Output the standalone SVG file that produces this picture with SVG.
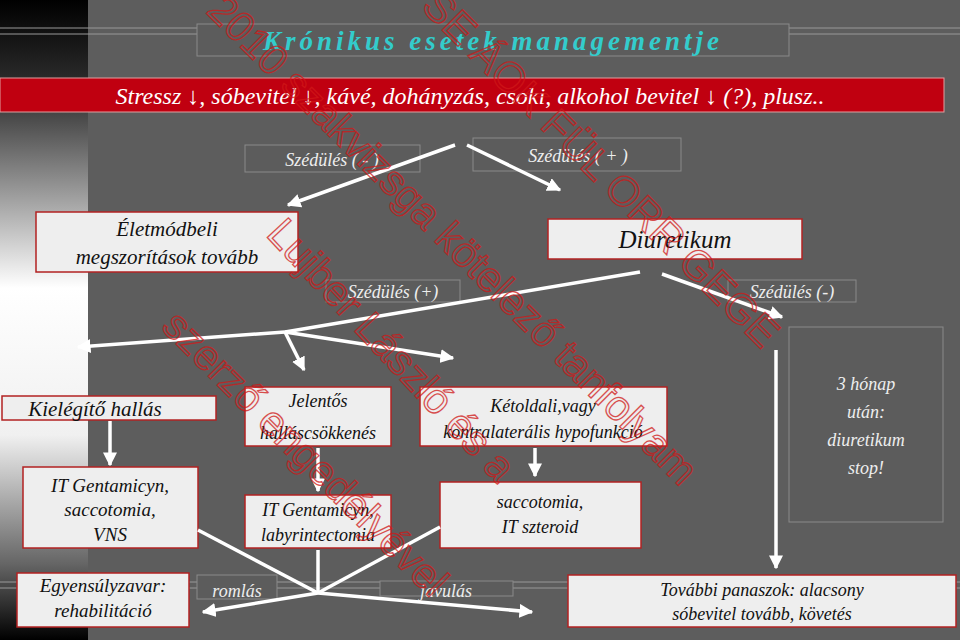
<svg xmlns="http://www.w3.org/2000/svg" width="960" height="640" viewBox="0 0 960 640">
<defs>
<linearGradient id="strip" x1="0" y1="0" x2="0" y2="1">
<stop offset="0" stop-color="#000"/><stop offset="0.15" stop-color="#333"/><stop offset="0.45" stop-color="#fff"/><stop offset="0.68" stop-color="#f0f0f0"/><stop offset="0.88" stop-color="#666"/><stop offset="1" stop-color="#000"/>
</linearGradient>
<marker id="ah" viewBox="0 0 10 10" refX="9" refY="5" markerWidth="4" markerHeight="4" orient="auto"><path d="M0,0 L10,5 L0,10 z" fill="#fff"/></marker>
<style>
.box{fill:#eeeeee;stroke:#b22222;stroke-width:1.5}
.lbl{fill:#5c5c5c;stroke:#8a8a8a;stroke-width:1}
.t{font-family:"Liberation Serif","DejaVu Serif",serif;font-style:italic;fill:#111;text-anchor:middle}
.tl{font-family:"Liberation Serif","DejaVu Serif",serif;font-style:italic;fill:#eee;text-anchor:middle;font-size:18px}
.c{stroke:#fff;stroke-width:3.5;fill:none}
.ca{stroke:#fff;stroke-width:3.5;fill:none;marker-end:url(#ah)}
.wm{font-family:"Liberation Sans",sans-serif;font-size:42px;fill:none;stroke:#d01818;stroke-width:1.3;opacity:0.75}
.hl{stroke:#999;stroke-width:1}
</style>
</defs>
<rect width="960" height="640" fill="#5d5d5d"/>
<rect width="88" height="640" fill="url(#strip)"/>
<g id="decor">
<line class="hl" x1="0" y1="28" x2="960" y2="28"/><line class="hl" x1="0" y1="34" x2="960" y2="34"/>
<line class="hl" x1="0" y1="582" x2="960" y2="582"/><line class="hl" x1="0" y1="588" x2="960" y2="588"/>
</g>
<g id="title"><rect x="197" y="24" width="592" height="32" class="lbl"/>
<text x="493" y="50" font-family="Liberation Serif,serif" font-style="italic" font-weight="bold" font-size="27" fill="#33cccc" text-anchor="middle" letter-spacing="4">Krónikus esetek managementje</text></g>
<g id="banner"><rect x="0" y="78" width="944" height="34" fill="#c00010" stroke="#e0a0a0"/>
<text x="470" y="104" class="t" font-size="24" style="fill:#fff">Stressz ↓,  sóbevitel ↓, kávé, dohányzás, csoki, alkohol bevitel ↓ (?), plusz..</text></g>
<g id="l1"><rect x="245" y="145" width="175" height="27" class="lbl"/><text class="tl" x="332" y="166">Szédülés  ( - )</text></g>
<g id="l2"><rect x="473" y="138" width="208" height="33" class="lbl"/><text class="tl" x="578" y="162">Szédülés ( + )</text></g>
<g id="n_elet"><rect x="36" y="212" width="262" height="60" class="box"/><text class="t" font-size="21" x="167" y="236">Életmódbeli</text><text class="t" font-size="21" x="167" y="264">megszorítások tovább</text></g>
<g id="n_diur"><rect x="548" y="219" width="254" height="40" class="box"/><text class="t" font-size="25" x="675" y="248">Diuretikum</text></g>
<g id="l3"><rect x="326" y="280" width="134" height="22" class="lbl"/><text class="tl" x="393" y="298">Szédülés (+)</text></g>
<g id="l4"><rect x="728" y="280" width="128" height="22" class="lbl"/><text class="tl" x="792" y="298">Szédülés (-)</text></g>
<g id="n_kiel"><rect x="2" y="396" width="214" height="24" class="box"/><text class="t" font-size="21" x="95" y="416">Kielégítő hallás</text></g>
<g id="n_jel"><rect x="245" y="387" width="146" height="59" class="box"/><text class="t" font-size="18" x="318" y="407">Jelentős</text><text class="t" font-size="18" x="318" y="439">halláscsökkenés</text></g>
<g id="n_ket"><rect x="420" y="387" width="247" height="59" class="box"/><text class="t" font-size="18" x="543" y="412">Kétoldali,vagy</text><text class="t" font-size="18" x="543" y="438">kontralaterális hypofunkció</text></g>
<g id="n_3h"><rect x="789" y="327" width="154" height="195" class="lbl"/><text class="tl" font-size="20" x="866" y="390">3 hónap</text><text class="tl" font-size="20" x="866" y="418">után:</text><text class="tl" font-size="20" x="866" y="446">diuretikum</text><text class="tl" font-size="20" x="866" y="474">stop!</text></g>
<g id="n_it1"><rect x="23" y="467" width="175" height="81" class="box"/><text class="t" font-size="19" x="110" y="492">IT Gentamicyn,</text><text class="t" font-size="19" x="110" y="516">saccotomia,</text><text class="t" font-size="19" x="110" y="541">VNS</text></g>
<g id="n_it2"><rect x="245" y="495" width="146" height="53" class="box"/><text class="t" font-size="18" x="318" y="516">IT Gentamicyn,</text><text class="t" font-size="18" x="318" y="541">labyrintectomia</text></g>
<g id="n_sacc"><rect x="440" y="482" width="201" height="66" class="box"/><text class="t" font-size="18" x="540" y="508">saccotomia,</text><text class="t" font-size="18" x="540" y="533">IT szteroid</text></g>
<g id="l5"><rect x="197" y="575" width="80" height="24" class="lbl"/><text class="tl" x="237" y="597">romlás</text></g>
<g id="l6"><rect x="380" y="581" width="133" height="15" class="lbl"/><text class="tl" x="446" y="597">javulás</text></g>
<g id="connectors">
<line class="ca" x1="455" y1="145" x2="288" y2="205"/>
<line class="ca" x1="467" y1="145" x2="560" y2="190"/>
<line class="c" x1="640" y1="272" x2="285" y2="332"/>
<line class="ca" x1="285" y1="332" x2="78" y2="347"/>
<line class="ca" x1="285" y1="332" x2="304" y2="370"/>
<line class="ca" x1="285" y1="332" x2="453" y2="358"/>
<line class="ca" x1="662" y1="274" x2="782" y2="317"/>
<line class="ca" x1="776" y1="350" x2="776" y2="568"/>
<line class="ca" x1="110" y1="421" x2="110" y2="465"/>
<line class="ca" x1="318" y1="448" x2="318" y2="491"/>
<line class="ca" x1="535" y1="448" x2="535" y2="476"/>
<line class="c" x1="198" y1="530" x2="318" y2="593"/>
<line class="c" x1="318" y1="550" x2="318" y2="593"/>
<line class="c" x1="440" y1="527" x2="318" y2="593"/>
<line class="ca" x1="318" y1="593" x2="203" y2="612"/>
<line class="ca" x1="318" y1="593" x2="532" y2="612"/>
</g>
<g id="n_egy"><rect x="17" y="573" width="172" height="54" class="box"/><text class="t" font-size="19" x="103" y="592">Egyensúlyzavar:</text><text class="t" font-size="19" x="103" y="617">rehabilitáció</text></g>
<g id="n_tov"><rect x="568" y="575" width="388" height="52" class="box"/><text class="t" font-size="18" x="762" y="596">További panaszok: alacsony</text><text class="t" font-size="18" x="762" y="620">sóbevitel tovább, követés</text></g>
<g id="watermark">
<text class="wm" transform="translate(205,12) rotate(45)">2010 szakvizsga kötelező tanfolyam</text>
<text class="wm" transform="translate(420,8) rotate(45)">SE ÁOK FÜL ORR GEGE</text>
<text class="wm" transform="translate(265,235) rotate(47)">Lujber László és a</text>
<text class="wm" transform="translate(160,328) rotate(45)">szerző engedélyével</text>
</g>
</svg>
